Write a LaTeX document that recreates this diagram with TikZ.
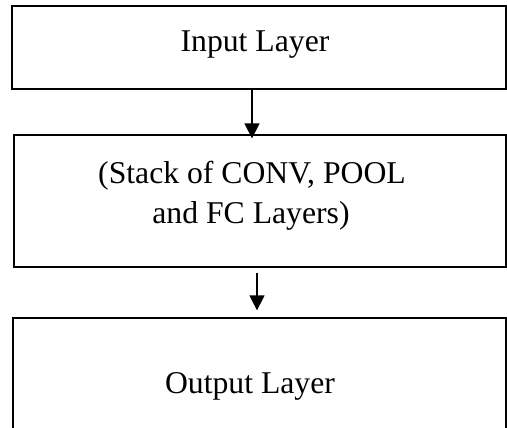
\documentclass[tikz,border=0pt]{standalone}
\usepackage{fontspec}
\setmainfont{Liberation Serif}
\usetikzlibrary{arrows.meta}
\begin{document}
\begin{tikzpicture}[x=1pt,y=-1pt,
  layerbox/.style={draw, line width=1.3pt, inner sep=0pt, rectangle},
  lbl/.style={font=\fontsize{31.7}{40}\selectfont, inner sep=0pt, anchor=base},
  arr/.style={line width=1.4pt, -{Triangle[width=15pt,length=15pt]}}]
\useasboundingbox (0,0) rectangle (507,428);
\node[layerbox, minimum width=494pt, minimum height=83pt] (box1) at (259,47.5) {};
\node[layerbox, minimum width=492pt, minimum height=132pt] (box2) at (260,201) {};
\node[layerbox, minimum width=493pt, minimum height=116pt] (box3) at (259.5,376) {};
\node[lbl] (t1) at (255,52) {Input Layer};
\node[lbl] (t2a) at (252,183) {(Stack of CONV, POOL};
\node[lbl] (t2b) at (251,223) {and FC Layers)};
\node[lbl] (t3) at (250,393) {Output Layer};
\draw[arr] ([xshift=-7pt]box1.south) -- ([xshift=-8pt,yshift=-4pt]box2.north);
\draw[arr] ([xshift=-3pt,yshift=-5pt]box2.south) -- ([xshift=-2.5pt,yshift=7pt]box3.north);
\end{tikzpicture}
\end{document}
